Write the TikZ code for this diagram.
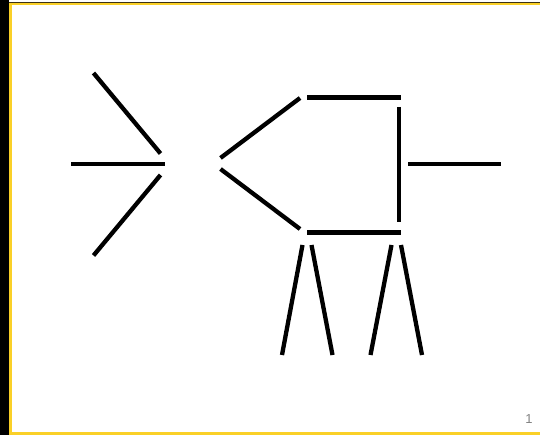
\documentclass[tikz,border=0pt]{standalone}
\usepackage{fontspec}
\setmainfont{Liberation Sans}
\definecolor{framegold}{RGB}{250,208,40}
\definecolor{framedark}{RGB}{60,50,20}
\definecolor{pagegray}{RGB}{130,130,130}
\begin{document}
\begin{tikzpicture}[x=1pt,y=-1pt,
  stroke/.style={line width=4.3pt,line cap=butt,black}]
\useasboundingbox (0,0) rectangle (540,435);
\fill[white] (0,0) rectangle (540,435);
% frame
\fill[black] (0,0) rectangle (9,435);
\fill[framedark] (9,2) rectangle (540,3.4);
\fill[framegold] (9,3.4) rectangle (540,5.4);
\fill[framegold] (9,3.4) rectangle (12,434.5);
\fill[framegold] (9,432.4) rectangle (540,434.5);
% coordinates
\coordinate (l1a) at (93.5,73);   \coordinate (l1b) at (160.5,153.5);
\coordinate (l2a) at (71,164);    \coordinate (l2b) at (164.5,164);
\coordinate (l3a) at (160.5,175); \coordinate (l3b) at (93.5,255.5);
\coordinate (r1a) at (220.5,158); \coordinate (r1b) at (300,98);
\coordinate (r2a) at (220.5,169); \coordinate (r2b) at (300,229);
\coordinate (ta) at (307,97.5);   \coordinate (tb) at (401,97.5);
\coordinate (va) at (399,107);    \coordinate (vb) at (399,222);
\coordinate (ha) at (408,164);    \coordinate (hb) at (501,164);
\coordinate (ba) at (307,232.5);  \coordinate (bb) at (401,232.5);
\coordinate (g1a) at (302.5,245); \coordinate (g1b) at (282,355);
\coordinate (g2a) at (311.5,245); \coordinate (g2b) at (332.5,355);
\coordinate (g3a) at (391.5,245); \coordinate (g3b) at (370.5,355);
\coordinate (g4a) at (401,245);   \coordinate (g4b) at (422,355);
% strokes
\draw[stroke] (l1a) -- (l1b);
\draw[stroke] (l2a) -- (l2b);
\draw[stroke] (l3a) -- (l3b);
\draw[stroke] (r1a) -- (r1b);
\draw[stroke] (r2a) -- (r2b);
\draw[stroke] (ta) -- (tb);
\draw[stroke] (va) -- (vb);
\draw[stroke] (ha) -- (hb);
\draw[stroke] (ba) -- (bb);
\draw[stroke] (g1a) -- (g1b);
\draw[stroke] (g2a) -- (g2b);
\draw[stroke] (g3a) -- (g3b);
\draw[stroke] (g4a) -- (g4b);
% page number
\node[text=pagegray,font=\fontsize{13}{13}\selectfont,inner sep=0pt,anchor=base] (pnum) at (529,423) {1};
\end{tikzpicture}
\end{document}
